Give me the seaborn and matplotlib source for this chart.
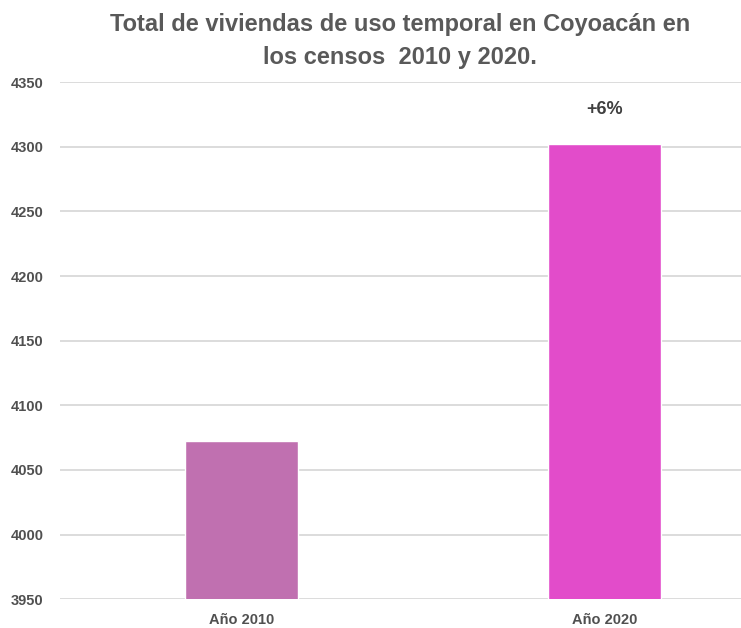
#!/usr/bin/env python3
"""
Viviendas de uso temporal en Coyoacán, censos 2010 y 2020
"""

import pandas as pd
import matplotlib.pyplot as plt
import seaborn as sns

# Data
years = ['Año 2010', 'Año 2020']
viviendas = [4072, 4302]
bar_colors = ['#C070B0', '#E24CCA']
change_label = '+6%'

sns.set_theme(style='white')
plt.rcParams['font.family'] = ['Liberation Sans', 'DejaVu Sans']


def create_chart():
    df = pd.DataFrame({'Año': years, 'Viviendas': viviendas})

    fig = plt.figure(figsize=(7.41, 6.28), dpi=100)
    ax = fig.add_axes([0.081, 0.046, 0.919, 0.823])

    sns.barplot(data=df, x='Año', y='Viviendas', hue='Año', palette=bar_colors,
                width=0.31, saturation=1, legend=False, ax=ax, zorder=3)

    ax.set_ylim(3950, 4350)
    ax.set_xlim(-0.5, 1.376)
    ax.set_yticks(range(3950, 4351, 50))
    ax.yaxis.grid(True, color='#D9D9D9', linewidth=1.3, zorder=0)
    ax.set_axisbelow(True)
    for s in ax.spines.values():
        s.set_visible(False)
    ax.tick_params(axis='y', length=0, labelsize=10.5, labelcolor='#505050', pad=12)
    ax.tick_params(axis='x', length=0, labelsize=10.5, labelcolor='#505050', pad=10)
    for lbl in ax.get_xticklabels() + ax.get_yticklabels():
        lbl.set_fontweight('bold')
    ax.set_xlabel('')
    ax.set_ylabel('')

    # Percentage change above the 2020 bar
    ax.text(1, viviendas[1] + 20, change_label, ha='center', va='bottom',
            fontsize=13, fontweight='bold', color='#404040')

    fig.suptitle('Total de viviendas de uso temporal en Coyoacán en\nlos censos  2010 y 2020.',
                 x=0.54, y=0.98, fontsize=17, fontweight='bold', color='#595959',
                 linespacing=1.6)

    fig.savefig('out.png', dpi=100)
    plt.close(fig)


if __name__ == '__main__':
    create_chart()
